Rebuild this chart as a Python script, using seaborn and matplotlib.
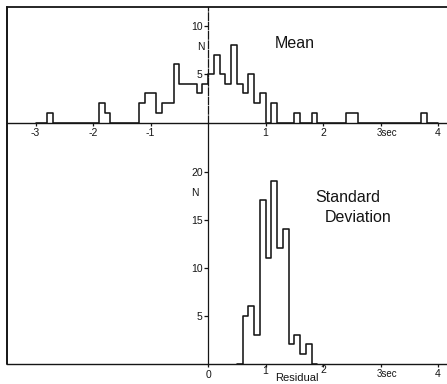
import numpy as np
import pandas as pd
import matplotlib
matplotlib.use("Agg")
import matplotlib.pyplot as plt
import seaborn as sns
from matplotlib.lines import Line2D
from matplotlib.transforms import ScaledTranslation

# ---------------- data ----------------
bin_width = 0.1
mean_bin_left = [-2.8, -1.9, -1.8, -1.2, -1.1, -1.0, -0.9, -0.8, -0.7, -0.6,
                 -0.5, -0.4, -0.3, -0.2, -0.1, 0.0, 0.1, 0.2, 0.3, 0.4,
                 0.5, 0.6, 0.7, 0.8, 0.9, 1.1, 1.5, 1.8, 2.4, 2.5, 3.7]
mean_counts = [1, 2, 1, 2, 3, 3, 1, 2, 2, 6,
               4, 4, 4, 3, 4, 5, 7, 5, 4, 8,
               4, 3, 5, 2, 3, 2, 1, 1, 1, 1, 1]
mean_range = (-3.0, 4.0)

std_bin_left = [0.6, 0.7, 0.8, 0.9, 1.0, 1.1, 1.2, 1.3, 1.4, 1.5, 1.6, 1.7]
std_counts = [5, 6, 3, 17, 11, 19, 12, 14, 2, 3, 1, 2]
std_range = (0.5, 1.9)

top_xticks = [-3, -2, -1, 1, 2, 3, 4]
top_xticklabels = ["-3", "-2", "-1", "1", "2", "3sec", "4"]
bottom_xticks = [0, 1, 2, 3, 4]
bottom_xticklabels = ["0", "1", "2", "3sec", "4"]
top_yticks = [5, 10]
bottom_yticks = [5, 10, 15, 20]

# ---------------- style ----------------
sns.set_style("white")
plt.rcParams["font.family"] = ["Liberation Sans", "DejaVu Sans"]
ink = "#151515"

W, H = 447, 384
fig = plt.figure(figsize=(W / 100, H / 100), dpi=100)

def frac(px_left, px_top, px_right, px_bottom):
    return [px_left / W, 1 - px_bottom / H, (px_right - px_left) / W, (px_bottom - px_top) / H]

x0_px, x_scale = 208.0, 57.5
xlim = ((7 - x0_px) / x_scale, (W - x0_px) / x_scale)

ax_top = fig.add_axes(frac(7, 7, W, 122.5))
ax_bot = fig.add_axes(frac(7, 122.5, W, 363.5))

def draw_hist(ax, lefts, counts, rng):
    edges = [round(v, 3) for v in np.arange(rng[0], rng[1] + bin_width / 2, bin_width)]
    df = pd.DataFrame({"value": np.asarray(lefts, dtype=float) + bin_width / 2,
                       "count": np.asarray(counts, dtype=float)})
    sns.histplot(data=df, x="value", weights="count", bins=edges, element="step",
                 fill=False, color=ink, linewidth=1.15, ax=ax)
    ax.set_xlabel("")
    ax.set_ylabel("")

draw_hist(ax_top, mean_bin_left, mean_counts, mean_range)
draw_hist(ax_bot, std_bin_left, std_counts, std_range)

ax_top.set_xlim(*xlim)
ax_bot.set_xlim(*xlim)
ax_top.set_ylim(0, (122.5 - 7) / 9.7)
ax_bot.set_ylim(0, (363.5 - 122.5) / 9.6)

for ax in (ax_top, ax_bot):
    ax.set_facecolor("none")
    ax.spines["right"].set_visible(False)
    ax.spines["left"].set_position(("data", 0))
    ax.spines["left"].set_linewidth(0.9)
    ax.spines["left"].set_color(ink)
    ax.spines["bottom"].set_linewidth(1.0)
    ax.spines["bottom"].set_color(ink)
    ax.tick_params(axis="y", direction="out", length=3, width=0.9, pad=0.8,
                   labelsize=7.5, colors=ink, left=True)
    ax.tick_params(axis="x", direction="out", length=2.5, width=0.9,
                   labelsize=7.5, colors=ink, bottom=True)

ax_top.spines["left"].set_linestyle((0, (6, 1.5)))
ax_top.spines["top"].set_linewidth(1.3)
ax_top.spines["top"].set_color(ink)
ax_bot.spines["top"].set_visible(False)

ax_top.set_xticks(top_xticks, top_xticklabels)
ax_bot.set_xticks(bottom_xticks, bottom_xticklabels)
ax_top.set_yticks(top_yticks)
ax_bot.set_yticks(bottom_yticks)
ax_top.tick_params(axis="x", pad=1.8)
ax_bot.tick_params(axis="x", pad=1.2)

label_shift_px = {"1": 3, "2": 4, "0": -1}
for ax in (ax_top, ax_bot):
    for lab in ax.get_xticklabels():
        if lab.get_text() == "3sec":
            lab.set_horizontalalignment("left")
            lab.set_fontsize(7)
            lab.set_transform(lab.get_transform() + ScaledTranslation(-4 / 100, 0, fig.dpi_scale_trans))
for lab in ax_bot.get_xticklabels():
    dy = label_shift_px.get(lab.get_text(), 0)
    if dy:
        lab.set_transform(lab.get_transform() + ScaledTranslation(0, dy / 100, fig.dpi_scale_trans))

# left frame line
fig.add_artist(Line2D([7 / W, 7 / W], [1 - 6.5 / H, 1 - 364 / H], color=ink, lw=1.4,
                      transform=fig.transFigure))

# annotations
ax_top.text((295 - x0_px) / x_scale, 8.1, "Mean", fontsize=11.5, ha="center", va="center", color=ink)
ax_top.text(-0.12, 7.8, "N", fontsize=7.5, ha="center", va="center", color=ink)
ax_bot.text(-0.23, 17.8, "N", fontsize=7.5, ha="center", va="center", color=ink)
ax_bot.text((315 - x0_px) / x_scale, 17.3, "Standard", fontsize=11.5, ha="left", va="center", color=ink)
ax_bot.text((325 - x0_px) / x_scale, 15.2, "Deviation", fontsize=11.5, ha="left", va="center", color=ink)
ax_bot.text((297 - x0_px) / x_scale, -1.5, "Residual", fontsize=8, ha="center", va="center",
            color=ink, clip_on=False)

fig.savefig("out.png", dpi=100)
